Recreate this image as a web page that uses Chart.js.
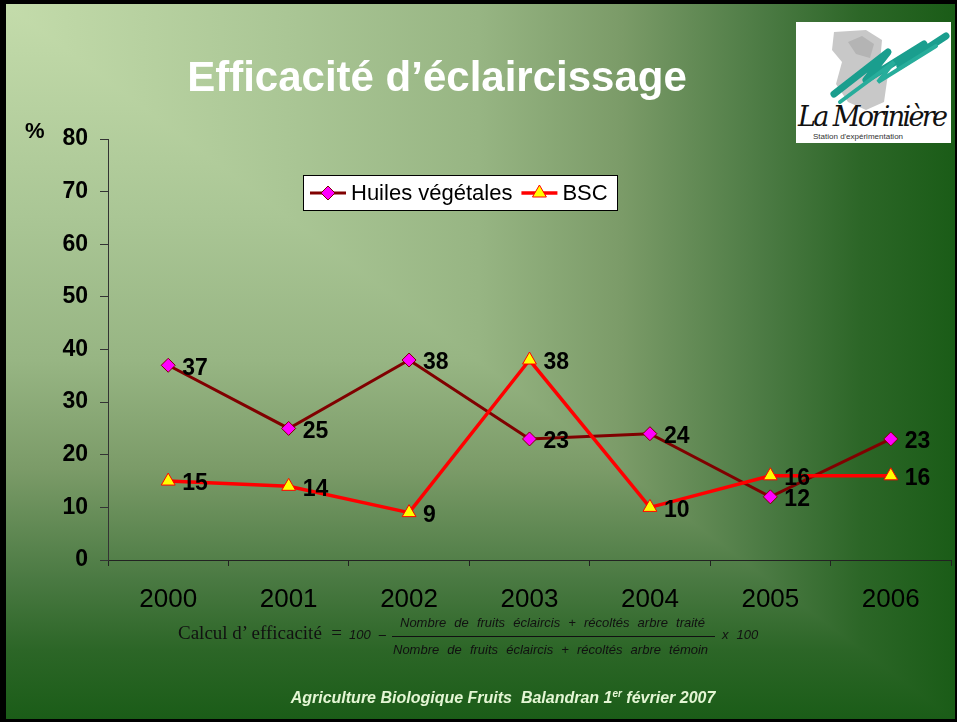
<!DOCTYPE html>
<html>
<head>
<meta charset="utf-8">
<script src="https://cdn.jsdelivr.net/npm/chart.js@4/dist/chart.umd.min.js"></script>
<style>
  body { margin: 0; }
  #slide { position: relative; width: 957px; height: 722px; overflow: hidden; font-family: "Liberation Sans", Arial, sans-serif; }
  #chart { position: absolute; left: 0; top: 0; }
  #frame { position: absolute; left: 0; top: 0; width: 957px; height: 722px; box-sizing: border-box;
           border-style: solid; border-color: #000; border-width: 4px 2px 3px 6px; pointer-events: none; }
  .txt { position: absolute; white-space: nowrap; }
  #title { left: 0; width: 874px; top: 53px; text-align: center; color: #fff; font-weight: bold; font-size: 42px; }
  #pct { left: 25px; top: 118px; font-weight: bold; font-size: 22px; color: #000; }
  #logo { position: absolute; left: 796px; top: 22px; width: 155px; height: 121px; background: #fff; }
  #calc { left: 178px; top: 622px; font-family: "Liberation Serif", "Times New Roman", serif; font-size: 19px; color: #111; }
  .it { font-style: italic; font-size: 13px; color: #111; word-spacing: 4.5px; }
  #footer { left: 0; width: 1006px; top: 688px; text-align: center; color: #e4f6d4; font-weight: bold; font-style: italic; font-size: 16px; }
</style>
</head>
<body>
<div id="slide">
  <canvas id="chart" width="957" height="722"></canvas>
  <div class="txt" id="title">Efficacité d’éclaircissage</div>
  <div class="txt" id="pct">%</div>
  <div id="logo">
    <svg width="155" height="121" viewBox="0 0 155 121">
      <path d="M38 10 L70 8 L86 18 L84 40 L92 52 L88 80 L70 88 L52 80 L40 62 L46 40 L36 28 Z" fill="#c8c8c8"/>
      <path d="M52 20 L66 14 L78 22 L74 36 L60 32 Z" fill="#b4b4b4"/>
      <path d="M38 72 L92 30 L70 58 L128 22 L104 44 L150 14" fill="none" stroke="#1a9e8e" stroke-width="7" stroke-linejoin="round" stroke-linecap="round"/>
      <path d="M44 80 L98 40 L82 60 L140 24" fill="none" stroke="#27ad9b" stroke-width="4" stroke-linecap="round"/>
      <text x="2" y="104" font-family="DejaVu Serif, serif" font-style="italic" font-size="27" fill="#111" textLength="150">La Morinière</text>
      <text x="17" y="117" font-family="Liberation Sans, Arial, sans-serif" font-size="8" fill="#333">Station d'expérimentation</text>
    </svg>
  </div>
  <div class="txt" id="calc">Calcul d’ efficacité &nbsp;=</div>
  <div class="txt it" style="left:349px; top:627px;">100 –</div>
  <div class="txt it" style="left:400px; top:615px;">Nombre de fruits éclaircis + récoltés arbre traité</div>
  <div style="position:absolute; left:392px; top:636px; width:323px; height:1px; background:#111;"></div>
  <div class="txt it" style="left:393px; top:642px;">Nombre de fruits éclaircis + récoltés arbre témoin</div>
  <div class="txt it" style="left:722px; top:627px;">x 100</div>
  <div class="txt" id="footer">Agriculture Biologique Fruits&nbsp; Balandran 1<sup style="font-size:10px">er</sup> février 2007</div>
  <div id="frame"></div>
</div>
<script>
const years = ["2000", "2001", "2002", "2003", "2004", "2005", "2006"];
const huiles = [37, 25, 38, 23, 24, 12, 23];
const bsc = [15, 14, 9, 38, 10, 16, 16];
const seriesNames = ["Huiles végétales", "BSC"];
const yTicks = [0, 10, 20, 30, 40, 50, 60, 70, 80];

// slide background: corner gradient, light top-left to dark green
const backgroundPlugin = {
    id: "slideBackground",
    beforeDraw(chart) {
        const ctx = chart.ctx;
        const w = chart.width, h = chart.height;
        const stops = [[0, "#c4dcab"], [0.3, "#aac695"], [0.5, "#97b583"], [0.65, "#7b9b68"],
                       [0.8, "#4b7a43"], [0.9, "#2c6627"], [1, "#1a5c17"]];
        ctx.save();
        // whole slide with vertical gradient first (lower-left half)
        let g = ctx.createLinearGradient(0, 0, 0, h);
        stops.forEach(s => g.addColorStop(s[0], s[1]));
        ctx.fillStyle = g;
        ctx.fillRect(0, 0, w, h);
        // upper-right half: horizontal gradient
        g = ctx.createLinearGradient(0, 0, w, 0);
        stops.forEach(s => g.addColorStop(s[0], s[1]));
        ctx.beginPath(); ctx.moveTo(0, 0); ctx.lineTo(w, 0); ctx.lineTo(w, h); ctx.closePath();
        ctx.fillStyle = g; ctx.fill();
        ctx.restore();
    }
};

// value labels to the right of each point
const valueLabels = {
    id: "valueLabels",
    afterDatasetsDraw(chart) {
        const ctx = chart.ctx;
        ctx.save();
        ctx.font = "bold 23px 'Liberation Sans', Arial, sans-serif";
        ctx.fillStyle = "#000";
        ctx.textBaseline = "middle";
        chart.data.datasets.forEach((ds, i) => {
            chart.getDatasetMeta(i).data.forEach((pt, j) => {
                ctx.fillText(ds.data[j], pt.x + 14, pt.y + 3);
            });
        });
        ctx.restore();
    }
};

// legend box like the Excel one
const boxLegend = {
    id: "boxLegend",
    afterDraw(chart) {
        const ctx = chart.ctx;
        const x0 = 303, y0 = 175, w = 314, h = 35, cy = y0 + 18;
        ctx.save();
        ctx.fillStyle = "#fff";
        ctx.fillRect(x0, y0, w, h);
        ctx.strokeStyle = "#000";
        ctx.lineWidth = 1;
        ctx.strokeRect(x0 + 0.5, y0 + 0.5, w, h);
        ctx.font = "22px 'Liberation Sans', Arial, sans-serif";
        ctx.textBaseline = "middle";
        let x = x0 + 7;
        chart.data.datasets.forEach(ds => {
            ctx.strokeStyle = ds.borderColor;
            ctx.lineWidth = ds.borderWidth;
            ctx.beginPath(); ctx.moveTo(x, cy); ctx.lineTo(x + 36, cy); ctx.stroke();
            ctx.fillStyle = ds.pointBackgroundColor;
            ctx.strokeStyle = ds.pointBorderColor;
            ctx.lineWidth = 1;
            const cx = x + 18, r = ds.pointRadius;
            ctx.beginPath();
            if (ds.pointStyle === "rectRot") {
                ctx.moveTo(cx, cy - r); ctx.lineTo(cx + r, cy); ctx.lineTo(cx, cy + r); ctx.lineTo(cx - r, cy);
            } else {
                ctx.moveTo(cx, cy - r); ctx.lineTo(cx + r * 0.87, cy + r * 0.5); ctx.lineTo(cx - r * 0.87, cy + r * 0.5);
            }
            ctx.closePath(); ctx.fill(); ctx.stroke();
            ctx.fillStyle = "#000";
            ctx.fillText(ds.label, x + 41, cy + 1);
            x += 41 + ctx.measureText(ds.label).width + 9;
        });
        ctx.restore();
    }
};

new Chart(document.getElementById("chart"), {
    type: "line",
    data: {
        labels: years,
        datasets: [
            {
                label: seriesNames[0], data: huiles, order: 1,
                borderColor: "#800000", borderWidth: 3,
                pointStyle: "rectRot", pointRadius: 7, pointBackgroundColor: "#ff00ff", pointBorderColor: "#800000", pointBorderWidth: 1
            },
            {
                label: seriesNames[1], data: bsc, order: 0,
                borderColor: "#ff0000", borderWidth: 3.5,
                pointStyle: "triangle", pointRadius: 8, pointBackgroundColor: "#ffff00", pointBorderColor: "#ff0000", pointBorderWidth: 1
            }
        ]
    },
    options: {
        responsive: false,
        animation: false,
        layout: { autoPadding: false, padding: { top: 139, right: 6, left: 0, bottom: 0 } },
        plugins: { legend: { display: false }, tooltip: { enabled: false } },
        scales: {
            x: {
                offset: true,
                grid: { offset: true, drawOnChartArea: false, drawTicks: true, tickLength: 6, color: "#222" },
                border: { color: "#222", width: 1 },
                ticks: { color: "#000", padding: 18, font: { family: "'Liberation Sans', Arial, sans-serif", size: 26 } },
                afterFit(scale) { scale.height = 162; }
            },
            y: {
                min: 0, max: 80,
                afterBuildTicks(scale) { scale.ticks = yTicks.map(v => ({ value: v })); },
                grid: { drawOnChartArea: false, drawTicks: true, tickLength: 8, color: "#333" },
                border: { color: "#333", width: 1 },
                ticks: { color: "#000", padding: 12, font: { family: "'Liberation Sans', Arial, sans-serif", size: 23, weight: "bold" } },
                afterFit(scale) { scale.width = 108; }
            }
        }
    },
    plugins: [backgroundPlugin, valueLabels, boxLegend]
});
</script>
</body>
</html>
